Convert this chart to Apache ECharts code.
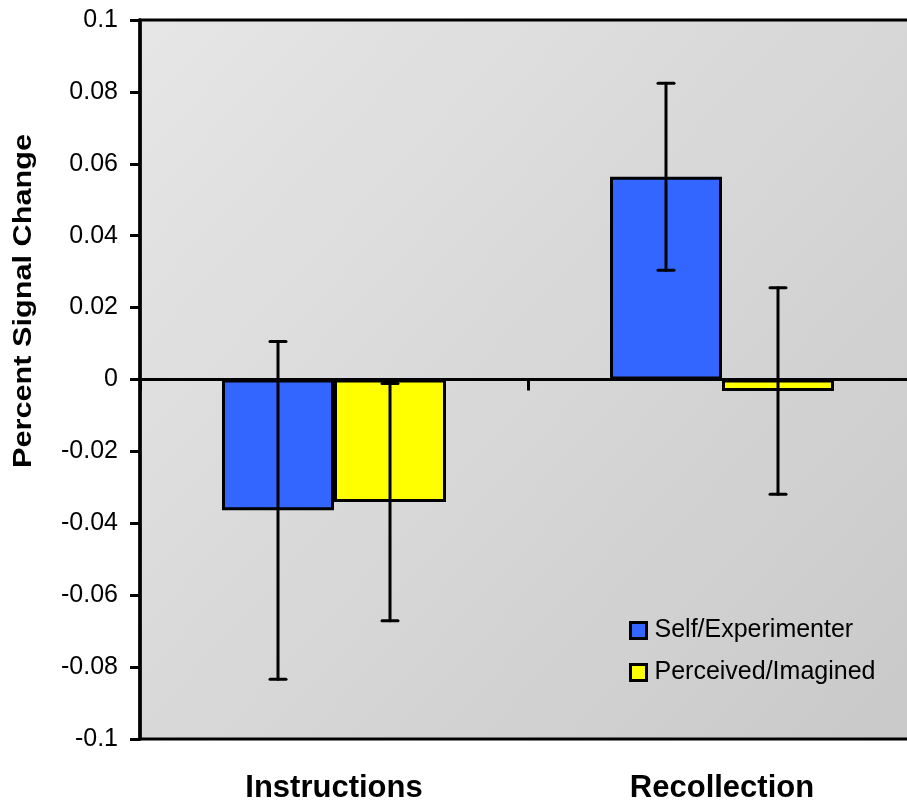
<!DOCTYPE html>
<html>
<head>
<meta charset="utf-8">
<script src="https://cdn.jsdelivr.net/npm/echarts@6/dist/echarts.min.js"></script>
<style>
html,body{margin:0;padding:0;background:#fff;}
#chart{width:907px;height:808px;}
</style>
</head>
<body>
<div id="chart"></div>
<script>
var categories = ['Instructions', 'Recollection'];
var seriesNames = ['Self/Experimenter', 'Perceived/Imagined'];
var selfValues = [-0.0364, 0.0564];
var perceivedValues = [-0.0341, -0.0032];
var selfErrors = [0.047, 0.026];
var perceivedErrors = [0.033, 0.0287];
var yTitle = 'Percent Signal Change';

var FONT = 'Liberation Sans, Arial, sans-serif';
var BAR_W = 112;

function errData(vals, errs) {
  return vals.map(function (v, i) { return [i, v - errs[i], v + errs[i]]; });
}
function errRender(offset) {
  return function (params, api) {
    var idx = api.value(0);
    var pLow = api.coord([idx, api.value(1)]);
    var pHigh = api.coord([idx, api.value(2)]);
    var x = pLow[0] + offset;
    var cap = 8;
    var st = { stroke: '#000', lineWidth: 3, lineCap: 'round' };
    return {
      type: 'group',
      children: [
        { type: 'line', shape: { x1: x, y1: pLow[1], x2: x, y2: pHigh[1] }, style: st },
        { type: 'line', shape: { x1: x - cap, y1: pLow[1], x2: x + cap, y2: pLow[1] }, style: st },
        { type: 'line', shape: { x1: x - cap, y1: pHigh[1], x2: x + cap, y2: pHigh[1] }, style: st }
      ]
    };
  };
}

var chart = echarts.init(document.getElementById('chart'), null, { renderer: 'canvas' });
chart.setOption({
  animation: false,
  backgroundColor: '#fff',
  textStyle: { fontFamily: FONT, color: '#000' },
  grid: {
    left: 140, top: 20, width: 776, height: 719,
    containLabel: false,
    outerBoundsMode: 'none',
    show: true,
    borderColor: '#000', borderWidth: 3,
    backgroundColor: {
      type: 'linear', x: 0, y: 0, x2: 1, y2: 1,
      colorStops: [{ offset: 0, color: '#E6E6E6' }, { offset: 1, color: '#C9C9C9' }]
    }
  },
  legend: {
    orient: 'vertical',
    left: 629, top: 618,
    padding: 0,
    itemWidth: 16, itemHeight: 16,
    itemGap: 17,
    icon: 'rect',
    data: seriesNames,
    itemStyle: { borderColor: '#000', borderWidth: 3 },
    textStyle: { fontFamily: FONT, fontSize: 25, color: '#000', padding: [0, 0, 0, 3] }
  },
  graphic: [{
    type: 'text',
    x: 24, y: 301,
    rotation: Math.PI / 2,
    scaleX: 1.18,
    style: {
      text: yTitle,
      font: 'bold 26px Liberation Sans',
      fill: '#000',
      textAlign: 'center',
      textVerticalAlign: 'middle'
    }
  }],
  xAxis: [{
    type: 'category',
    data: categories,
    axisLine: { onZero: true, lineStyle: { color: '#000', width: 3 } },
    axisTick: { show: true, alignWithLabel: false, length: 11, lineStyle: { color: '#000', width: 3 } },
    axisLabel: { show: false },
    splitLine: { show: false },
    z: 5
  }, {
    type: 'category',
    data: categories,
    position: 'bottom',
    axisLine: { show: false, onZero: false },
    axisTick: { show: false },
    axisLabel: { show: true, margin: 34, fontFamily: FONT, fontSize: 31, fontWeight: 'bold', color: '#000' },
    splitLine: { show: false }
  }],
  yAxis: {
    type: 'value',
    min: -0.1, max: 0.1, interval: 0.02,
    axisLine: { show: true, lineStyle: { color: '#000', width: 3.5 } },
    axisTick: { show: true, inside: false, length: 10, lineStyle: { color: '#000', width: 3 } },
    axisLabel: {
      margin: 22, fontFamily: FONT, fontSize: 25, color: '#000',
      formatter: function (v) { return String(+v.toFixed(2)); }
    },
    splitLine: { show: false }
  },
  series: [{
    name: seriesNames[0],
    type: 'bar',
    xAxisIndex: 0,
    data: selfValues,
    barWidth: BAR_W,
    barGap: '0%',
    itemStyle: { color: '#3366FF', borderColor: '#000', borderWidth: 3 },
    z: 2
  }, {
    name: seriesNames[1],
    type: 'bar',
    xAxisIndex: 0,
    data: perceivedValues,
    barWidth: BAR_W,
    barGap: '0%',
    itemStyle: { color: '#FFFF00', borderColor: '#000', borderWidth: 3 },
    z: 2
  }, {
    type: 'custom',
    xAxisIndex: 0,
    renderItem: errRender(-BAR_W / 2),
    data: errData(selfValues, selfErrors),
    encode: { x: 0, y: [1, 2] },
    z: 6,
    silent: true
  }, {
    type: 'custom',
    xAxisIndex: 0,
    renderItem: errRender(BAR_W / 2),
    data: errData(perceivedValues, perceivedErrors),
    encode: { x: 0, y: [1, 2] },
    z: 6,
    silent: true
  }]
});
</script>
</body>
</html>
